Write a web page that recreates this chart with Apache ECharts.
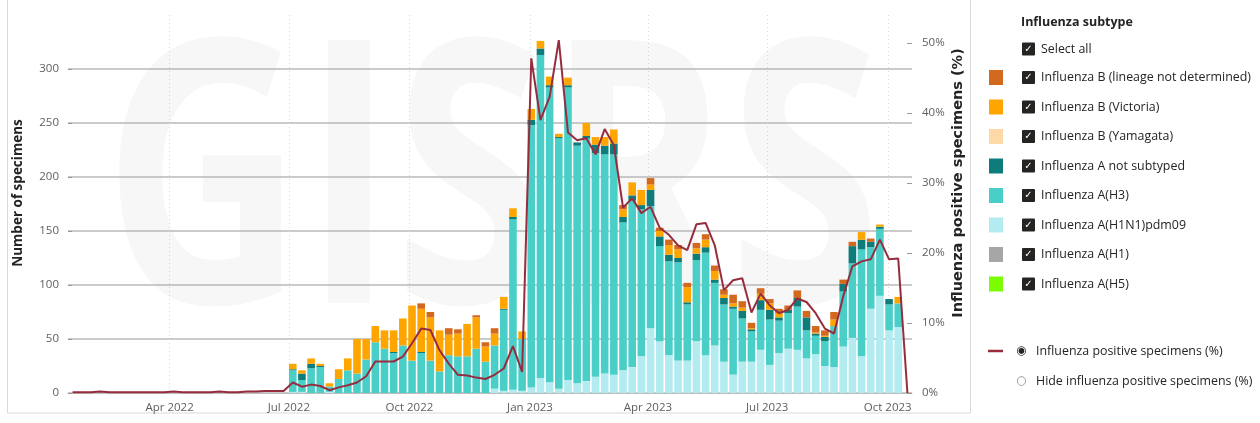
<!DOCTYPE html>
<html><head><meta charset="utf-8">
<script src="https://cdn.jsdelivr.net/npm/echarts@6/dist/echarts.min.js"></script>
<style>html,body{margin:0;padding:0;background:#fff}#c{width:1260px;height:423px}</style>
</head><body><div id="c"></div>
<script>
// ---------- data ----------
const firstWeek = '2022-01-17';   // ISO week start of first data point
const weekCount = 92;
const tickDates = ['2022-04-01','2022-07-01','2022-10-01','2023-01-01','2023-04-01','2023-07-01','2023-10-01'];

const pre = new Array(24).fill(0); // Jan–Jun 2022: no bars
const h1n1 = pre.concat([1,1,0,0,1,0,0,0,0,0, 0,0,0,0,0,0,0,0,0,0, 0,0,4,2,3,2,5,14,10,4,
  12,9,11,15,18,17,21,24,34,60, 48,35,30,30,48,35,44,29,17,29, 29,40,26,37,41,40,32,36,25,24,
  43,51,34,78,90,58,61, 0]);
const h3 = pre.concat([20,11,23,24,5,13,21,18,31,47, 41,37,44,30,37,30,20,35,34,34, 41,29,40,75,158,48,243,299,273,232,
  271,220,225,207,203,204,137,154,136,113, 88,87,91,52,75,95,58,53,61,40, 28,37,42,30,33,40,26,17,23,38,
  51,69,99,57,62,24,22, 0]);
const aNotSubtyped = pre.concat([1,6,4,1,0,0,0,0,0,0, 0,1,0,0,1,0,0,0,0,0, 0,0,0,1,2,0,5,6,2,1,
  2,3,2,8,8,10,5,5,4,15, 9,6,4,2,6,5,3,6,2,7, 2,9,9,3,3,8,12,2,4,0,
  7,16,9,5,2,5,0, 0]);
const bYamagata = new Array(weekCount).fill(0);
const bVictoria = pre.concat([5,3,5,2,3,9,11,32,19,15, 17,20,25,51,40,40,38,19,21,30, 29,14,11,11,8,7,10,7,8,3,
  7,0,12,7,8,13,7,12,14,5, 5,9,8,14,5,7,8,3,3,3, 1,6,6,4,0,0,0,1,1,6,
  0,0,7,0,2,0,6, 0]);
const bNotDetermined = pre.concat([0,0,0,0,0,0,0,0,0,0, 0,0,0,0,5,5,0,6,4,0, 2,4,5,0,0,0,0,0,0,0,
  0,0,0,0,0,0,4,0,0,6, 3,5,4,4,5,5,5,5,8,6, 5,5,4,4,4,7,6,6,5,7,
  4,4,0,3,0,0,0, 0]);
const aH1 = new Array(weekCount).fill(0);
const aH5 = new Array(weekCount).fill(0);
const positivePct = [0.1,0.1,0.1,0.2,0.1,0.1,0.1,0.1,0.1,0.1, 0.1,0.2,0.1,0.1,0.1,0.1,0.2,0.1,0.1,0.2, 0.2,0.3,0.3,0.3,
  1.5,0.9,1.2,1.0,0.4,0.8,1.1,1.5,2.4,4.5, 4.5,4.5,5.2,7.1,9.2,9.0,6.1,4.2,2.6,2.5,
  2.2,2.0,2.6,3.5,6.7,3.0,47.8,39.0,42.3,50.4, 37.2,36.1,36.4,34.1,37.7,35.4,26.5,27.8,25.7,26.6,
  23.6,22.6,21.1,20.4,24.1,24.3,21.1,14.7,16.1,16.4, 11.5,14.2,12.5,11.4,11.9,13.5,13.0,11.4,9.2,8.5,
  13.8,18.1,18.8,19.1,21.9,19.1,19.2, 0];

const NAME = {
  bnd: 'Influenza B (lineage not determined)', vic: 'Influenza B (Victoria)', yam: 'Influenza B (Yamagata)',
  ans: 'Influenza A not subtyped', h3: 'Influenza A(H3)', h1n1: 'Influenza A(H1N1)pdm09',
  h1: 'Influenza A(H1)', h5: 'Influenza A(H5)', pct: 'Influenza positive specimens (%)'
};
const COLOR = { bnd:'#D2691E', vic:'#FFA500', yam:'#FDD9A8', ans:'#0E7C7B', h3:'#4ACFC8', h1n1:'#B3ECF0', h1:'#A6A6A6', h5:'#7CFC00', pct:'#962D3E' };
const MONTHS = ['Jan','Feb','Mar','Apr','May','Jun','Jul','Aug','Sep','Oct','Nov','Dec'];

// ---------- build ----------
const DAY = 864e5;
const t0 = Date.parse(firstWeek + 'T00:00:00Z');
const weeks = [];
for (let i = 0; i < weekCount; i++) weeks.push(new Date(t0 + i * 7 * DAY).toISOString().slice(0, 10));
const tickTs = tickDates.map(s => Date.parse(s + 'T00:00:00Z'));
// date axis spans half a week either side of the first/last week so that it lines up with the week bands
const dateMin = t0 - 3.5 * DAY;
const dateMax = t0 + (weekCount - 1) * 7 * DAY + 3.5 * DAY;
const FONT = "'Segoe UI', 'Open Sans', sans-serif";

function barSeries(key, arr) {
  return { name: NAME[key], type: 'bar', stack: 'total', barWidth: 7.6, data: arr,
    itemStyle: { color: COLOR[key] }, emphasis: { disabled: true }, z: 2 };
}

const chart = echarts.init(document.getElementById('c'), null, { renderer: 'canvas' });
chart.setOption({
  animation: false,
  backgroundColor: '#fff',
  textStyle: { fontFamily: FONT },
  grid: { left: 68, right: 348, top: 15, bottom: 30, outerBoundsMode: 'none', containLabel: false },
  xAxis: [{
    type: 'category', data: weeks, boundaryGap: true, position: 'bottom',
    axisLine: { show: true, lineStyle: { color: '#bdbdbd', width: 1 } },
    axisTick: { show: false }, axisLabel: { show: false }, splitLine: { show: false }
  }, {
    type: 'value', scale: true, position: 'bottom', min: dateMin, max: dateMax,
    axisLine: { show: false },
    axisTick: { show: false, customValues: tickTs },
    axisLabel: { customValues: tickTs, color: '#605E5C', fontSize: 11.5, margin: 9, fontFamily: FONT,
      formatter: v => { const d = new Date(v); return MONTHS[d.getUTCMonth()] + ' ' + d.getUTCFullYear(); } },
    splitLine: { show: true, customValues: tickTs, lineStyle: { type: [1, 3], color: '#d6d6d6', width: 1 } }
  }],
  yAxis: [{
    type: 'value', min: 0, max: 350, interval: 50, position: 'left',
    axisLine: { show: false },
    axisTick: { show: true, inside: true, length: 4, lineStyle: { color: '#999' } },
    axisLabel: { color: '#605E5C', fontSize: 11.5, margin: 9, showMaxLabel: false, fontFamily: FONT },
    splitLine: { show: true, showMaxLine: false, lineStyle: { color: '#b8b8b8', width: 1.6 } }
  }, {
    type: 'value', min: 0, max: 54, interval: 10, position: 'right',
    axisLine: { show: false },
    axisTick: { show: true, inside: true, length: 5, lineStyle: { color: '#999' } },
    axisLabel: { color: '#605E5C', fontSize: 11.5, margin: 10, showMaxLabel: false, formatter: '{value}%', fontFamily: FONT },
    splitLine: { show: false }
  }],
  legend: [{
    orient: 'vertical', left: 989, top: 70, itemWidth: 14, itemHeight: 15, itemGap: 14.5,
    icon: 'rect', selectedMode: false, padding: 0,
    data: [NAME.bnd, NAME.vic, NAME.yam, NAME.ans, NAME.h3, NAME.h1n1, NAME.h1, NAME.h5],
    formatter: n => '{sp| }{cb|✓}{sp2| }{t|' + n + '}',
    textStyle: { rich: {
      sp: { width: 14, height: 15, lineHeight: 15 },
      cb: { width: 13, height: 13, lineHeight: 13, backgroundColor: '#252423', color: '#fff', align: 'center', fontSize: 10, fontFamily: 'DejaVu Sans', borderRadius: 1 },
      sp2: { width: 6, lineHeight: 15 },
      t: { fontSize: 12.4, color: '#252423', fontFamily: FONT, lineHeight: 15 }
    } }
  }, {
    orient: 'vertical', left: 988, top: 345, itemWidth: 15, itemHeight: 2.5, padding: 0, icon: 'rect',
    selectedMode: false, data: [NAME.pct],
    formatter: n => '{sp| }{rb|◉}{sp2| }{t|' + n + '}',
    textStyle: { rich: {
      sp: { width: 8, lineHeight: 15 },
      rb: { width: 11, fontSize: 12, color: '#252423', fontFamily: 'DejaVu Sans', lineHeight: 15 },
      sp2: { width: 9, lineHeight: 15 },
      t: { fontSize: 12.4, color: '#252423', fontFamily: FONT, lineHeight: 15 }
    } }
  }],
  graphic: [
    { type: 'text', z: -10, x: 492, y: 198, scaleX: 0.75, silent: true,
      style: { text: 'GISRS', font: "bold 368px 'Open Sans', sans-serif", fill: '#f7f7f7', align: 'center', verticalAlign: 'middle' } },
    { type: 'rect', silent: true, shape: { x: 7.5, y: -2, width: 963, height: 415 },
      style: { fill: 'none', stroke: '#d9d9d9', lineWidth: 1 } },
    { type: 'text', x: 18, y: 193, rotation: Math.PI / 2,
      style: { text: 'Number of specimens', font: "bold 13.5px 'Segoe UI', 'Open Sans', sans-serif", fill: '#252423', align: 'center', verticalAlign: 'middle' } },
    { type: 'text', x: 958, y: 183, rotation: Math.PI / 2,
      style: { text: 'Influenza positive specimens (%)', font: "bold 14.5px 'DejaVu Sans', sans-serif", fill: '#252423', align: 'center', verticalAlign: 'middle' } },
    { type: 'text', x: 1021, y: 22,
      style: { text: 'Influenza subtype', font: "bold 12.5px 'Segoe UI', 'Open Sans', sans-serif", fill: '#252423', verticalAlign: 'middle' } },
    { type: 'text', x: 1022, y: 49,
      style: { text: '{cb|✓}{sp| }{t|Select all}', verticalAlign: 'middle',
        rich: {
          cb: { width: 13, height: 13, lineHeight: 13, backgroundColor: '#252423', fill: '#fff', align: 'center', fontSize: 10, fontFamily: 'DejaVu Sans', borderRadius: 1 },
          sp: { width: 6 },
          t: { fontSize: 12.4, fill: '#252423', fontFamily: FONT }
        } } },
    { type: 'text', x: 1016, y: 381,
      style: { text: '{rb|○}{sp| }{t|Hide influenza positive specimens (%)}', verticalAlign: 'middle',
        rich: {
          rb: { width: 11, fontSize: 12, fill: '#8a8a8a', fontFamily: 'DejaVu Sans' },
          sp: { width: 9 },
          t: { fontSize: 12.4, fill: '#252423', fontFamily: FONT }
        } } }
  ],
  series: [
    barSeries('h5', aH5),
    barSeries('h1', aH1),
    barSeries('h1n1', h1n1),
    barSeries('h3', h3),
    barSeries('ans', aNotSubtyped),
    barSeries('yam', bYamagata),
    barSeries('vic', bVictoria),
    barSeries('bnd', bNotDetermined),
    { name: NAME.pct, type: 'line', yAxisIndex: 1, data: positivePct, symbol: 'none', showSymbol: false,
      lineStyle: { color: COLOR.pct, width: 2 }, itemStyle: { color: COLOR.pct }, z: 5,
      emphasis: { disabled: true } }
  ]
});
</script>
</body></html>
